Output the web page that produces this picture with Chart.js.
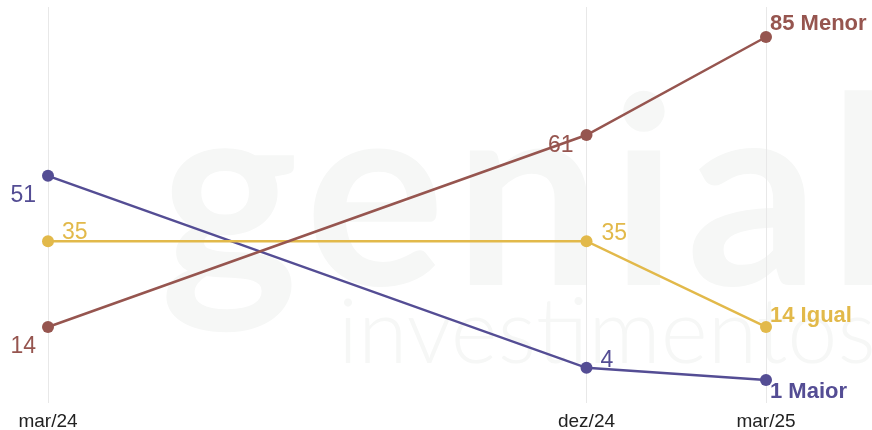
<!DOCTYPE html>
<html>
<head>
<meta charset="utf-8">
<script src="https://cdn.jsdelivr.net/npm/chart.js@4"></script>
<style>
  html, body { margin: 0; padding: 0; background: #fff; }
  #wrap { width: 872px; height: 430px; position: relative; }
</style>
</head>
<body>
<div id="wrap"><canvas id="chart"></canvas></div>
<script>
// 月份索引（从 mar/24 起算）
const tickMonths = [0, 9, 12];
const tickLabels = ['mar/24', 'dez/24', 'mar/25'];

// 各系列数值
const seriesNames = ['Menor', 'Igual', 'Maior'];
const menorValues = [14, 61, 85];
const igualValues = [35, 35, 14];
const maiorValues = [51, 4, 1];

const colors = {
  Menor: '#96554f',
  Igual: '#e2b94a',
  Maior: '#544d94'
};

// 标签相对数据点的偏移
const labelLayout = {
  Menor: [{ dx: -12, dy: 20, align: 'right' }, { dx: -13, dy: 11, align: 'right' }, { dx: 4, dy: -13, align: 'left' }],
  Igual: [{ dx: 14, dy: -9, align: 'left' }, { dx: 15, dy: -8, align: 'left' }, { dx: 4, dy: -11, align: 'left' }],
  Maior: [{ dx: -12, dy: 20, align: 'right' }, { dx: 14, dy: -7, align: 'left' }, { dx: 4, dy: 12, align: 'left' }]
};

const toPoints = values => values.map((v, i) => ({ x: tickMonths[i], y: v }));

// 背景水印
const watermark = {
  id: 'watermark',
  beforeDraw(chart) {
    const ctx = chart.ctx;
    ctx.save();
    ctx.fillStyle = '#f6f7f6';
    ctx.textBaseline = 'alphabetic';
    ctx.textAlign = 'left';
    ctx.font = 'bold 262px Lato';
    ctx.letterSpacing = '9px';
    ctx.fillText('genial', 160, 285);
    ctx.letterSpacing = '0px';
    ctx.font = '300 90px Lato';
    ctx.fillText('investimentos', 338, 363);
    ctx.restore();
  }
};

// 数据点标签
const pointLabels = {
  id: 'pointLabels',
  afterDatasetsDraw(chart) {
    const ctx = chart.ctx;
    ctx.save();
    ctx.textBaseline = 'middle';
    chart.data.datasets.forEach((ds, di) => {
      const meta = chart.getDatasetMeta(di);
      const layout = labelLayout[ds.label];
      meta.data.forEach((pt, i) => {
        const last = i === meta.data.length - 1;
        const text = last ? ds.data[i].y + ' ' + ds.label : String(ds.data[i].y);
        const pos = layout[i];
        ctx.font = last ? 'bold 22px "Liberation Sans"' : '23px "Liberation Sans"';
        ctx.fillStyle = ds.borderColor;
        ctx.textAlign = pos.align;
        ctx.fillText(text, pt.x + pos.dx, pt.y + pos.dy);
      });
    });
    ctx.restore();
  }
};

const datasets = [
  { label: 'Menor', data: toPoints(menorValues) },
  { label: 'Igual', data: toPoints(igualValues) },
  { label: 'Maior', data: toPoints(maiorValues) }
].map(ds => ({
  ...ds,
  borderColor: colors[ds.label],
  backgroundColor: colors[ds.label],
  pointBackgroundColor: colors[ds.label],
  borderWidth: 2.5,
  pointRadius: 6,
  pointBorderWidth: 0,
  tension: 0,
  clip: false
}));

new Chart(document.getElementById('chart'), {
  type: 'line',
  data: { datasets },
  options: {
    responsive: true,
    maintainAspectRatio: false,
    animation: false,
    layout: { padding: { left: 48, right: 106, top: 7, bottom: 0 } },
    plugins: {
      legend: { display: false },
      tooltip: { enabled: false }
    },
    scales: {
      x: {
        type: 'linear',
        min: 0,
        max: 12,
        afterBuildTicks: axis => { axis.ticks = tickMonths.map(v => ({ value: v })); },
        afterFit: axis => { axis.height = 27; },
        ticks: {
          padding: 7,
          color: '#222',
          font: { family: '"Liberation Sans"', size: 19 },
          maxRotation: 0,
          callback: v => tickLabels[tickMonths.indexOf(v)]
        },
        grid: { color: '#e8e8e8', lineWidth: 1, drawTicks: false },
        border: { display: false }
      },
      y: {
        display: false,
        min: -4.61,
        max: 92.34
      }
    }
  },
  plugins: [watermark, pointLabels]
});
</script>
</body>
</html>
